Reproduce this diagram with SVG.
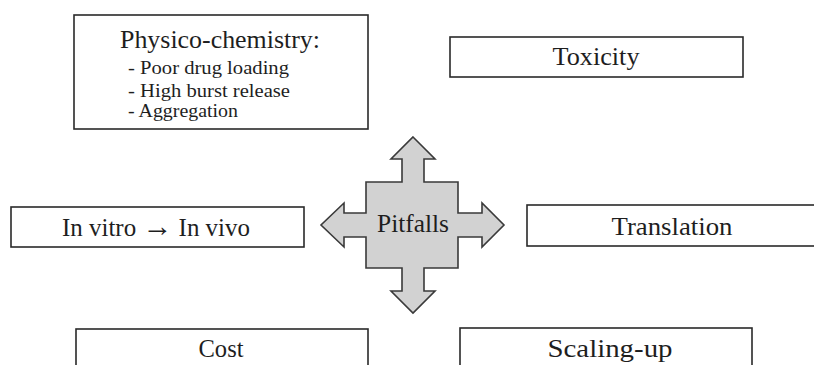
<svg xmlns="http://www.w3.org/2000/svg" width="814" height="365" viewBox="0 0 814 365">
<style>
  .box { fill: #ffffff; stroke: #2a2a2a; stroke-width: 1.6; }
  .lbl { font-family: "Liberation Serif", "Times New Roman", serif; font-size: 25px; fill: #1e1e1e; text-anchor: middle; }
  .sub { font-family: "Liberation Serif", "Times New Roman", serif; font-size: 18px; fill: #1e1e1e; }
  .cross { fill: #d2d2d2; stroke: #3a3a3a; stroke-width: 1.6; stroke-linejoin: miter; }
</style>
<rect x="0" y="0" width="814" height="365" fill="#ffffff"/>

<g id="physico">
  <rect class="box" x="74" y="15" width="294" height="114"/>
  <text class="lbl" x="220" y="48" font-size="26" textLength="200" lengthAdjust="spacingAndGlyphs">Physico-chemistry:</text>
  <text class="sub" x="128" y="74" textLength="161" lengthAdjust="spacingAndGlyphs">- Poor drug loading</text>
  <text class="sub" x="128" y="97" textLength="162" lengthAdjust="spacingAndGlyphs">- High burst release</text>
  <text class="sub" x="128" y="117" textLength="110" lengthAdjust="spacingAndGlyphs">- Aggregation</text>
</g>

<g id="toxicity">
  <rect class="box" x="450" y="37" width="293" height="40"/>
  <text class="lbl" x="596" y="65" textLength="87" lengthAdjust="spacingAndGlyphs">Toxicity</text>
</g>

<g id="invitro">
  <rect class="box" x="11" y="207" width="293" height="40"/>
  <text class="lbl" x="156" y="236" textLength="188" lengthAdjust="spacingAndGlyphs">In vitro <tspan font-size="30" font-weight="bold">→</tspan> In vivo</text>
</g>

<g id="translation">
  <rect class="box" x="527" y="205" width="290" height="41"/>
  <text class="lbl" x="672" y="235" textLength="121" lengthAdjust="spacingAndGlyphs">Translation</text>
</g>

<g id="cost">
  <rect class="box" x="76" y="329" width="292" height="50"/>
  <text class="lbl" x="221" y="357" textLength="45" lengthAdjust="spacingAndGlyphs">Cost</text>
</g>

<g id="scaling">
  <rect class="box" x="460" y="328" width="292" height="50"/>
  <text class="lbl" x="610" y="357" textLength="125" lengthAdjust="spacingAndGlyphs">Scaling-up</text>
</g>

<g id="pitfalls">
  <polygon class="cross" points="413,137 435,159 424,159 424,182 458,182 458,213 482,213 482,203 504,225 482,247 482,237 458,237 458,268 424,268 424,291 435,291 413,313 391,291 402,291 402,268 366,268 366,237 344,237 344,247 321,225 344,203 344,213 366,213 366,182 402,182 402,159 391,159"/>
  <text class="lbl" x="413" y="232" textLength="72" lengthAdjust="spacingAndGlyphs">Pitfalls</text>
</g>

<g id="connectors"></g>
</svg>
